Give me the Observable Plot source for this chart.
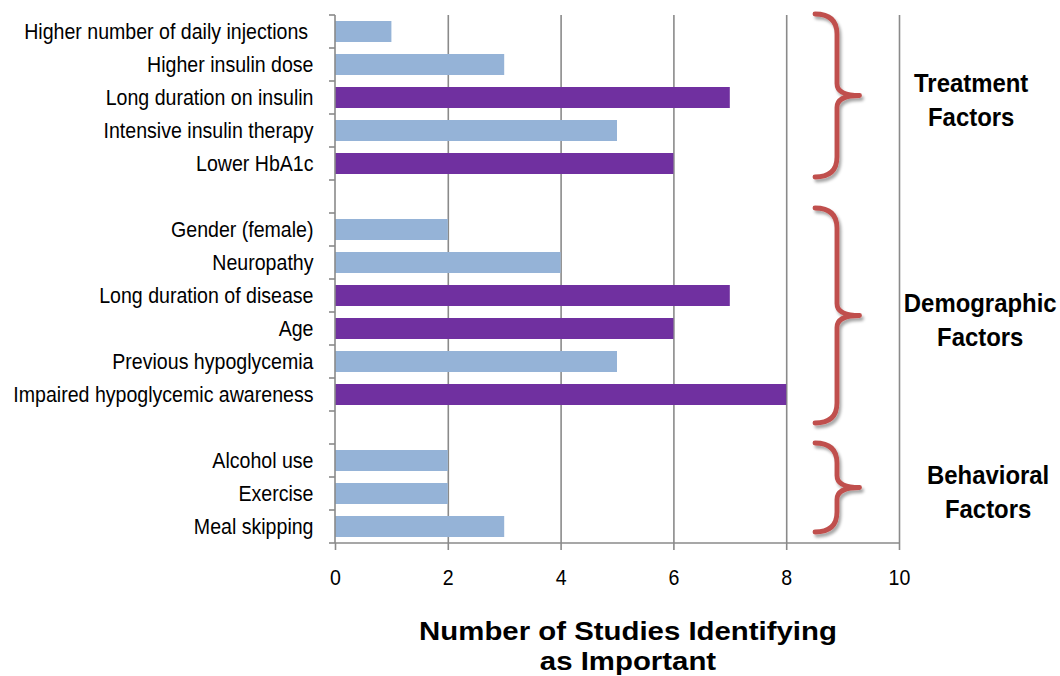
<!DOCTYPE html>
<html>
<head>
<meta charset="utf-8">
<script src="https://cdn.jsdelivr.net/npm/d3@7"></script>
<script src="https://cdn.jsdelivr.net/npm/@observablehq/plot@0.6"></script>
<style>
  html, body { margin: 0; padding: 0; background: #fff; }
  #chart svg { display: block; }
</style>
</head>
<body>
<div id="chart"></div>
<script>
// ---- data ----
const factors = [
  "Higher number of daily injections\u00a0",
  "Higher insulin dose",
  "Long duration on insulin",
  "Intensive insulin therapy",
  "Lower HbA1c",
  " ",
  "Gender (female)",
  "Neuropathy",
  "Long duration of disease",
  "Age",
  "Previous hypoglycemia",
  "Impaired hypoglycemic awareness",
  "  ",
  "Alcohol use",
  "Exercise",
  "Meal skipping"
];
const studies = [1, 3, 7, 5, 6, null, 2, 4, 7, 6, 5, 8, null, 2, 2, 3];
const highlighted = [false, false, true, false, true, null, false, false, true, true, false, true, null, false, false, false];
const xTicks = [0, 2, 4, 6, 8, 10];
const groupNames = [["Treatment", "Factors"], ["Demographic", "Factors"], ["Behavioral", "Factors"]];
const groupFirst = ["Higher number of daily injections\u00a0", "Gender (female)", "Alcohol use"];
const groupLast = ["Lower HbA1c", "Impaired hypoglycemic awareness", "Meal skipping"];
const axisTitle = ["Number of Studies Identifying", "as Important"];

const rows = factors.map((f, i) => ({factor: f, value: studies[i], hi: highlighted[i]}))
  .filter(d => d.value != null);
const groups = groupNames.map((g, i) => ({name: g, first: groupFirst[i], last: groupLast[i]}));

const GRAY = "#8a8a8a";
const BLUE = "#95b3d7";
const PURPLE = "#7030a0";
const BRACE = "#c0504d";
const SANS = "'Liberation Sans', Arial, sans-serif";

// custom mark: axis lines, y ticks between rows, braces, group labels and axis title
function frameAndBraces(index, scales, values, dims) {
  const {x} = scales;
  const top = dims.marginTop, bottom = dims.height - dims.marginBottom;
  const step = (bottom - top) / factors.length;
  const g = d3.create("svg:g");
  const defs = g.append("defs");
  const f = defs.append("filter").attr("id", "braceShadow").attr("x", "-50%").attr("y", "-10%").attr("width", "200%").attr("height", "120%");
  f.append("feDropShadow").attr("dx", 2).attr("dy", 3).attr("stdDeviation", 1.6).attr("flood-color", "#000").attr("flood-opacity", 0.35);
  g.append("line").attr("x1", x(0)).attr("x2", x(0)).attr("y1", top).attr("y2", bottom).attr("stroke", GRAY).attr("stroke-width", 1.6);
  g.append("line").attr("x1", x(0)).attr("x2", x(10)).attr("y1", bottom).attr("y2", bottom).attr("stroke", GRAY).attr("stroke-width", 1.6);
  for (let i = 0; i <= factors.length; i++) {
    const yy = top + i * step;
    g.append("line").attr("x1", x(0) - 6).attr("x2", x(0)).attr("y1", yy).attr("y2", yy).attr("stroke", GRAY).attr("stroke-width", 1.6);
  }
  const pads = [[-1, -3], [-5, 12], [-1, -11]];
  const labelX = [11.28, 11.44, 11.58];
  const x0 = x(8.51), xs = x(8.9), xp = x(9.3), r = 20;
  groups.forEach((grp, i) => {
    const t = top + factors.indexOf(grp.first) * step + pads[i][0];
    const b = top + (factors.indexOf(grp.last) + 1) * step + pads[i][1];
    const m = (t + b) / 2;
    const d = `M${x0},${t} Q${xs},${t} ${xs},${t + r} L${xs},${m - 12} Q${xs},${m} ${xp},${m} Q${xs},${m} ${xs},${m + 12} L${xs},${b - r} Q${xs},${b} ${x0},${b}`;
    g.append("path").attr("d", d).attr("fill", "none").attr("stroke", BRACE).attr("stroke-width", 4.8)
      .attr("stroke-linecap", "round").attr("stroke-linejoin", "round").attr("filter", "url(#braceShadow)");
    const lx = x(labelX[i]);
    grp.name.forEach((line, j) => {
      g.append("text")
        .attr("transform", `translate(${lx},${m + 4 + (j - 0.5) * 34}) scale(0.92,1)`)
        .attr("text-anchor", "middle").attr("dy", "0.35em")
        .attr("font-family", SANS).attr("font-weight", "bold").attr("font-size", 26).attr("fill", "#000")
        .text(line);
    });
  });
  // axis title (two lines, bold, slightly wide)
  const tx = x(5) + 11;
  axisTitle.forEach((line, j) => {
    g.append("text")
      .attr("transform", `translate(${tx},${640 + j * 30}) scale(1.13,1)`)
      .attr("text-anchor", "middle")
      .attr("font-family", SANS).attr("font-weight", "bold").attr("font-size", 26).attr("fill", "#000")
      .text(line);
  });
  return g.node();
}

const chart = Plot.plot({
  width: 1060,
  height: 676,
  marginLeft: 335,
  marginRight: 161,
  marginTop: 15,
  marginBottom: 133,
  style: {fontFamily: SANS, color: "#000", background: "#fff"},
  x: {domain: [0, 10]},
  y: {domain: factors, paddingInner: 0.37, paddingOuter: 0.185},
  marks: [
    Plot.gridX({ticks: [2, 4, 6, 8, 10], stroke: GRAY, strokeOpacity: 1, strokeWidth: 1.6}),
    Plot.barX(rows, {x: "value", y: "factor", fill: d => d.hi ? PURPLE : BLUE}),
    frameAndBraces,
    Plot.axisX({ticks: xTicks, tickSize: 7, tickFormat: () => "", stroke: GRAY, strokeWidth: 1.6, label: null}),
    Plot.axisX({ticks: xTicks, tickSize: 0, tickPadding: 26, fontSize: 22, fill: "#000", label: null}),
    Plot.axisY({tickSize: 0, tickPadding: 22, fontSize: 22, fill: "#000", label: null})
  ]
});
// condense tick labels (reference uses a narrow face)
d3.select(chart).selectAll('g[aria-label="y-axis tick label"] text, g[aria-label="x-axis tick label"] text')
  .each(function() { const t = this.getAttribute("transform") || ""; this.setAttribute("transform", t + " scale(0.89,1)"); });
document.getElementById("chart").appendChild(chart);
</script>
</body>
</html>
